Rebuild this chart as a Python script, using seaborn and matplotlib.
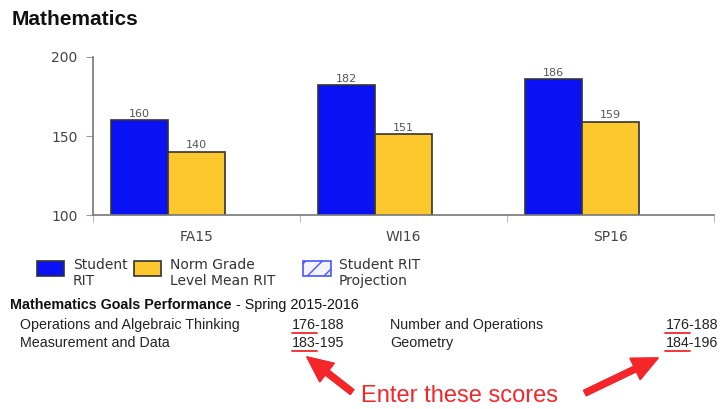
import numpy as np
import pandas as pd
import seaborn as sns
import matplotlib.pyplot as plt
from matplotlib.patches import Rectangle
from matplotlib.lines import Line2D

# data
terms = ["FA15", "WI16", "SP16"]
student_rit = [160, 182, 186]
norm_rit = [140, 151, 159]
projection = [np.nan, np.nan, np.nan]  # no projection shown
series = ["Student RIT", "Norm Grade Level Mean RIT", "Student RIT Projection"]
legend_labels = ["Student\nRIT", "Norm Grade\nLevel Mean RIT", "Student RIT\nProjection"]

goal_names_left = ["Operations and Algebraic Thinking", "Measurement and Data"]
goal_low_left = ["176", "183"]
goal_high_left = ["188", "195"]
goal_names_right = ["Number and Operations", "Geometry"]
goal_low_right = ["176", "184"]
goal_high_right = ["188", "196"]

blue = "#0a12f5"
yellow = "#fcc82e"
red = "#f5262a"

df = pd.DataFrame({
    "term": terms * 3,
    "series": [s for s in series for _ in terms],
    "rit": student_rit + norm_rit + projection,
})

sns.set_style("white")
plt.rcParams["font.family"] = ["DejaVu Sans"]

W, H = 720, 409


def px(x, y):
    # pixel position -> figure fraction
    return x / W, 1 - y / H


fig = plt.figure(figsize=(7.2, 4.09), dpi=100)
ax = fig.add_axes([93 / W, 1 - 215 / H, (714 - 93) / W, (215 - 57) / H])

sns.barplot(data=df, x="term", y="rit", hue="series", hue_order=series,
            palette=[blue, yellow, "white"], saturation=1, width=0.825,
            errorbar=None, edgecolor="#333333", linewidth=1.2, legend=False, ax=ax)

for c in ax.containers[:2]:
    ax.bar_label(c, padding=1, fontsize=8, color="#555555")

ax.set_ylim(100, 200)
ax.set_xlim(-0.5, 2.5)
ax.set_yticks([100, 150, 200])
ax.set_xticks([-0.5, 0.5, 1.5, 2.5], minor=True)
ax.set_xlabel("")
ax.set_ylabel("")
for s in ["top", "right"]:
    ax.spines[s].set_visible(False)
for s in ["left", "bottom"]:
    ax.spines[s].set_color("#777777")
    ax.spines[s].set_linewidth(1.2)
ax.tick_params(axis="y", left=True, length=5, color="#999999", labelsize=10,
               labelcolor="#444444", pad=6)
ax.tick_params(axis="x", which="major", bottom=True, length=0, pad=11,
               labelsize=10, labelcolor="#444444")
ax.tick_params(axis="x", which="minor", bottom=True, length=5, color="#aaaaaa")

# title
fig.text(*px(12, 25), "Mathematics", fontsize=15, fontweight="bold",
         family="Liberation Sans", color="#111111", va="baseline")

# legend boxes
legend_x = [37, 134, 303]
for i, lab in enumerate(legend_labels):
    x0, y0 = px(legend_x[i], 276)
    if i < 2:
        r = Rectangle((x0, y0), 27 / W, 15 / H, transform=fig.transFigure,
                      facecolor=[blue, yellow][i], edgecolor="#333333", lw=1.2)
    else:
        r = Rectangle((x0, y0), 28 / W, 15 / H, transform=fig.transFigure,
                      facecolor="#f2f3ff", edgecolor="#4a55ff", lw=1.2, hatch="//")
    fig.add_artist(r)
    fig.text(*px(legend_x[i] + 36, 273), lab, fontsize=10, color="#333333",
             va="center", linespacing=1.2)

# goals performance block
fig.text(*px(10, 305), "Mathematics Goals Performance", fontsize=10.3,
         fontweight="bold", family="Liberation Sans", color="#111111", va="center")
fig.text(*px(236, 305), "- Spring 2015-2016", fontsize=10.3,
         family="Liberation Sans", color="#111111", va="center")

row_y = [325, 343]
for i in range(2):
    fig.text(*px(20, row_y[i]), goal_names_left[i], fontsize=10.3,
             family="Liberation Sans", color="#222222", va="center")
    fig.text(*px(292, row_y[i]), f"{goal_low_left[i]}-{goal_high_left[i]}",
             fontsize=10.3, family="Liberation Sans", color="#222222", va="center")
    fig.text(*px(390, row_y[i]), goal_names_right[i], fontsize=10.3,
             family="Liberation Sans", color="#222222", va="center")
    fig.text(*px(718, row_y[i]), f"{goal_low_right[i]}-{goal_high_right[i]}",
             fontsize=10.3, family="Liberation Sans", color="#222222",
             va="center", ha="right")
    uy = row_y[i] + 8
    for x0 in (292, 665):
        (a, b), (c, d) = px(x0, uy), px(x0 + 25, uy)
        fig.add_artist(Line2D([a, c], [b, d], color=red, lw=1.3,
                              transform=fig.transFigure))

# annotation
fig.text(*px(361, 402), "Enter these scores", fontsize=17,
         family="Liberation Sans", color=red, va="baseline")
arrow = dict(arrowstyle="simple,head_length=1.3,head_width=1.2,tail_width=0.3",
             color=red, shrinkA=0, shrinkB=0, mutation_scale=14)
fig.add_artist(plt.annotate("", xy=px(307, 357), xytext=px(352, 392),
                            xycoords="figure fraction", textcoords="figure fraction",
                            arrowprops=arrow))
fig.add_artist(plt.annotate("", xy=px(658, 358), xytext=px(585, 393),
                            xycoords="figure fraction", textcoords="figure fraction",
                            arrowprops=arrow))

fig.savefig("out.png", dpi=100)
